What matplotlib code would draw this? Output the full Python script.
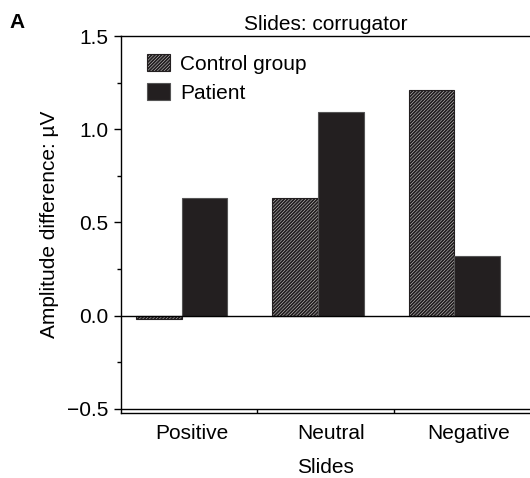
import numpy as np
import matplotlib
matplotlib.use("Agg")
import matplotlib.pyplot as plt
from matplotlib.ticker import MultipleLocator

plt.rcParams['font.family'] = ['Liberation Sans', 'DejaVu Sans']
plt.rcParams['hatch.linewidth'] = 1.4

categories = ["Positive", "Neutral", "Negative"]
series_names = ["Control group", "Patient"]
control = [-0.02, 0.63, 1.21]
patient = [0.63, 1.09, 0.32]
yticks = [-0.5, 0.0, 0.5, 1.0, 1.5]

fig = plt.figure(figsize=(5.30, 4.78), dpi=100)
ax = fig.add_axes([121/530, 1-413/478, 1-121/530, (413-36)/478])

fs = 15
dark = "#231f20"
x = np.arange(len(categories)) + 0.445
w = 0.335
ax.bar(x - w/2, control, w, facecolor="white", edgecolor=dark, hatch="/"*10,
       linewidth=0.8, label=series_names[0], zorder=2)
ax.bar(x + w/2, patient, w, facecolor=dark, edgecolor="#555555",
       linewidth=0.8, label=series_names[1], zorder=2)

ax.axhline(0, color="black", linewidth=1.0, zorder=3)
ax.axhline(-0.5, color="black", linewidth=1.0, zorder=3)

ax.set_xlim(0, 3.0)
ax.set_ylim(-0.522, 1.5)
ax.set_yticks(yticks)
ax.set_yticklabels([f"{v:.1f}".replace("-", "\u2212") for v in yticks])
ax.yaxis.set_minor_locator(MultipleLocator(0.25))
ax.tick_params(axis='y', which='major', direction='out', length=5, width=1,
               labelsize=fs, pad=4)
ax.tick_params(axis='y', which='minor', direction='out', length=3, width=1)

ax.set_xticks([1, 2])
ax.set_xticklabels(["", ""])
ax.tick_params(axis='x', which='major', direction='in', length=3, width=1)
ax.set_xticks([0.52, 1.54, 2.55], minor=True)
ax.set_xticklabels(categories, minor=True)
ax.tick_params(axis='x', which='minor', length=0, labelsize=fs, pad=8)

ax.spines['right'].set_visible(False)
for s in ['left', 'bottom', 'top']:
    ax.spines[s].set_linewidth(1.0)

ax.set_xlabel("Slides", fontsize=fs, labelpad=11)
ax.set_ylabel("Amplitude difference: \u00b5V", fontsize=fs, labelpad=6)
ax.set_title("Slides: corrugator", fontsize=fs, pad=4)

fig.text(17/530, 1-22/478, "A", fontsize=fs, fontweight="bold",
         ha="center", va="center")

ax.legend(loc="upper left", bbox_to_anchor=(26/411, 1-18/377), frameon=False,
          fontsize=fs, borderaxespad=0, borderpad=0, handlelength=1.1,
          handleheight=0.9, handletextpad=0.5, labelspacing=0.45)

fig.savefig("out.png", dpi=100)
